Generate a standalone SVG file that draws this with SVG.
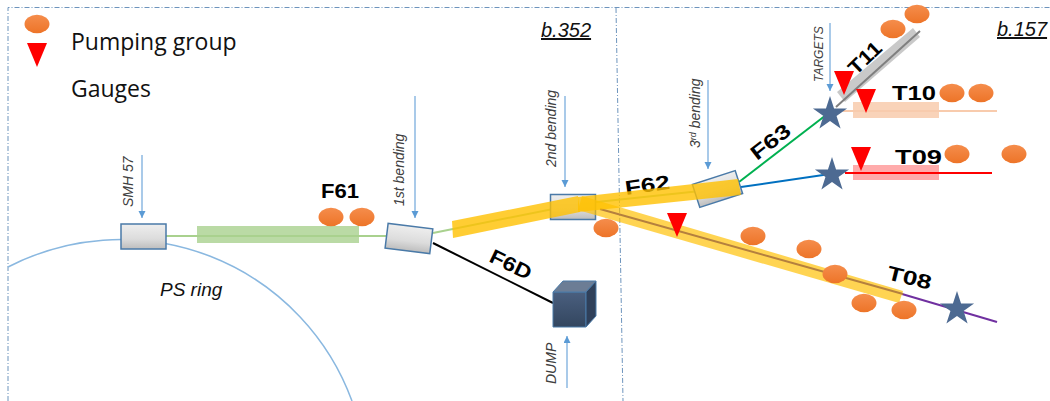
<svg xmlns="http://www.w3.org/2000/svg" width="1050" height="401" viewBox="0 0 1050 401">
<defs>
<linearGradient id="box" x1="0" y1="0" x2="0" y2="1"><stop offset="0" stop-color="#eeeeee"/><stop offset=".6" stop-color="#dcdcdc"/><stop offset="1" stop-color="#bdbdbd"/></linearGradient>
<linearGradient id="pump" x1="0" y1="0" x2="0" y2="1"><stop offset="0" stop-color="#f58d4c"/><stop offset="1" stop-color="#ed7428"/></linearGradient>
<linearGradient id="cube" x1="0" y1="0" x2="0" y2="1"><stop offset="0" stop-color="#4a5f7f"/><stop offset="1" stop-color="#33465f"/></linearGradient>
<marker id="ah" markerWidth="8" markerHeight="8" refX="7" refY="3.5" orient="auto" markerUnits="userSpaceOnUse"><path d="M0 0L7 3.5L0 7Z" fill="#5b9bd5"/></marker>
<ellipse id="p" rx="12.500" ry="9.200" fill="url(#pump)"/>
<path id="g" d="M-10 -12H10L0 12Z" fill="#ff0000"/>
<path id="s" d="M0 -18L4.050 -5.600H17.100L6.550 2.100L10.600 14.600L0 6.900L-10.600 14.600L-6.550 2.100L-17.100 -5.600H-4.050Z" fill="#4d6a92"/>
</defs>
<style>
.dash{fill:none;stroke:#6d94bd;stroke-width:1;stroke-dasharray:5 2 1 2}
.b{fill:url(#box);stroke:#4a7aa8;stroke-width:1.5}
.lb{font-family:"Liberation Sans",Arial,sans-serif;font-style:italic;font-size:14px;fill:#404040}
.nm{font-family:"Liberation Sans",Arial,sans-serif;font-weight:bold;font-size:20px;fill:#000}
.leg{font-family:"Open Sans","Noto Sans",sans-serif;font-size:23px;fill:#111}
.bn{font-family:"Liberation Sans",Arial,sans-serif;font-style:italic;font-size:20px;fill:#111;text-decoration:underline}
.ar{fill:none;stroke:#8db9e2;stroke-width:1.500;marker-end:url(#ah)}
</style>
<g id="frame">
<path class="dash" d="M8 401V7.500H1050"/>
<path class="dash" d="M616 8L623 401"/>
</g>
<g id="connectors">
<path d="M8 267A246 246 0 0 1 352 401" fill="none" stroke="#8ab8e0" stroke-width="1.500"/>
<path d="M166 236L388 236" stroke="#a9d18e" stroke-width="2" fill="none"/>
<path d="M433 233L578 204L738 187" stroke="#a9d18e" stroke-width="2" fill="none"/>
<path d="M433 243L553 303" stroke="#000" stroke-width="2" fill="none"/>
<path d="M739 182L830 112" stroke="#00b050" stroke-width="2" fill="none"/>
<path d="M741 187L830 174" stroke="#0070c0" stroke-width="2" fill="none"/>
<path class="ar" d="M142 155V218"/>
<path class="ar" d="M415 96V218"/>
<path class="ar" d="M565 96V187"/>
<path class="ar" d="M708 80V169"/>
<path class="ar" d="M830 23V91"/>
<path class="ar" d="M567 388V336"/>
</g>
<g id="smh57"><rect class="b" x="121" y="224" width="45" height="25"/></g>
<g id="dipole1"><rect class="b" x="386.500" y="226" width="45" height="25" transform="rotate(7 409 238)"/></g>
<g id="dipole2"><rect class="b" x="550.500" y="194.500" width="45" height="25"/></g>
<g id="dipole3"><rect class="b" x="695" y="177" width="45" height="24" transform="rotate(-18 717.500 189)"/></g>
<g id="beams">
<rect x="197" y="226" width="162" height="17" fill="#a9d18e" opacity=".8"/>
<path d="M837 92L845 102L920 37L913 28Z" fill="#c9c9c9"/>
<path d="M836 107L920 31" stroke="#808080" stroke-width="2" fill="none"/>
<rect x="853" y="102" width="86" height="16" fill="#f8cbad" opacity=".85"/>
<path d="M843 111H997" stroke="#f8cbad" stroke-width="2" fill="none"/>
<rect x="853" y="165" width="86" height="15" fill="#ff8f8f" opacity=".75"/>
<path d="M845 173H992" stroke="#ff0000" stroke-width="2" fill="none"/>
<path d="M902 294L997 322" stroke="#7030a0" stroke-width="2" fill="none"/>
</g>
<g id="label-f62"><text class="nm" textLength="45" lengthAdjust="spacingAndGlyphs" transform="translate(626 195) rotate(-8)">F62</text></g>
<g id="beam-orange">
<path d="M582 196L903 291L899 303L578 210Z" fill="#ffc000" opacity=".68"/>
<path d="M600 209L903 294" stroke="#b5803e" stroke-width="2" fill="none"/>
<path d="M452 221L578 196L580 212L453 238Z" fill="#ffc000" opacity=".8"/>
<path d="M578 197L738 179L741 195L578 212Z" fill="#ffc000" opacity=".8"/>
</g>
<g id="dump">
<path d="M553 292H586V327H553Z" fill="url(#cube)" stroke="#4a7aa8"/>
<path d="M553 292L563 281H596L586 292Z" fill="#6c7d95" stroke="#4a7aa8"/>
<path d="M586 292L596 281V316L586 327Z" fill="#2f405a" stroke="#4a7aa8"/>
</g>
<g id="stars">
<use href="#s" x="830" y="114"/>
<use href="#s" x="832" y="175"/>
<use href="#s" x="957" y="309"/>
</g>
<g id="labels">
<text class="leg" x="71" y="50">Pumping group</text>
<text class="leg" x="71" y="97">Gauges</text>
<text class="bn" x="541" y="37">b.352</text>
<text class="bn" x="997" y="36">b.157</text>
<text class="lb" x="160" y="296" style="font-size:19px;fill:#111">PS ring</text>
<text class="nm" x="321" y="198" textLength="38" lengthAdjust="spacingAndGlyphs">F61</text>
<text class="nm" textLength="45" lengthAdjust="spacingAndGlyphs" transform="translate(757 161) rotate(-38)">F63</text>
<text class="nm" textLength="44" lengthAdjust="spacingAndGlyphs" transform="translate(488 261) rotate(26)">F6D</text>
<text class="nm" textLength="38" lengthAdjust="spacingAndGlyphs" transform="translate(856 76) rotate(-44)">T11</text>
<text class="nm" x="892" y="100" textLength="44" lengthAdjust="spacingAndGlyphs">T10</text>
<text class="nm" x="895" y="164" textLength="47" lengthAdjust="spacingAndGlyphs">T09</text>
<text class="nm" textLength="45" lengthAdjust="spacingAndGlyphs" transform="translate(886 279) rotate(14)">T08</text>
<text class="lb" transform="translate(133 207) rotate(-90)">SMH 57</text>
<text class="lb" transform="translate(404 206) rotate(-90)">1st bending</text>
<text class="lb" transform="translate(556 167) rotate(-90)">2nd bending</text>
<text class="lb" transform="translate(700 148) rotate(-90)">3<tspan dy="-4" font-size="9">rd</tspan><tspan dy="4"> bending</tspan></text>
<text class="lb" style="font-size:12px" transform="translate(823 82) rotate(-90)">TARGETS</text>
<text class="lb" transform="translate(556 384) rotate(-90)">DUMP</text>
</g>
<g id="pumps">
<use href="#p" x="37" y="24"/>
<use href="#p" x="331" y="217"/>
<use href="#p" x="362" y="217"/>
<use href="#p" x="606" y="228"/>
<use href="#p" x="753" y="236"/>
<use href="#p" x="809" y="249"/>
<use href="#p" x="835" y="274"/>
<use href="#p" x="864" y="303"/>
<use href="#p" x="904" y="310"/>
<use href="#p" x="893" y="29"/>
<use href="#p" x="917" y="14"/>
<use href="#p" x="952" y="93"/>
<use href="#p" x="981" y="93"/>
<use href="#p" x="957" y="154"/>
<use href="#p" x="1014" y="154"/>
</g>
<g id="gauges">
<use href="#g" x="37" y="55"/>
<use href="#g" x="677" y="225"/>
<use href="#g" x="844" y="83"/>
<use href="#g" x="866" y="101"/>
<use href="#g" x="861" y="159"/>
</g>
</svg>
